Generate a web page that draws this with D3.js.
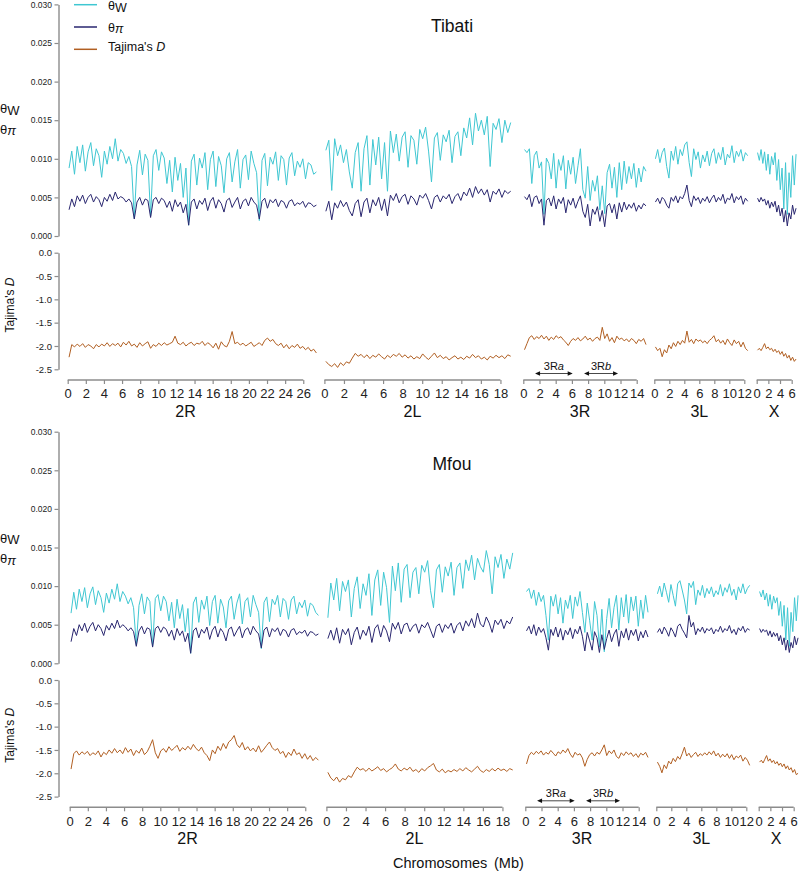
<!DOCTYPE html>
<html><head><meta charset="utf-8">
<script src="https://cdn.jsdelivr.net/npm/d3@7"></script>
<style>
body{margin:0;background:#fff}
svg{display:block;font-family:"Liberation Sans",Arial,Helvetica,sans-serif}
</style></head><body>
<svg id="c" width="800" height="873"></svg>
<script>
// ---------------- DATA ----------------
const chromosomes = ["2R","2L","3R","3L","X"];
const chromLengthMb = [27.6,19.2,15.3,12.7,7.0];
const chromTickMax = [26,18,14,12,6];
const windowMb = 0.3;
const populations = ["Tibati","Mfou"];
const thetaTicks = [0,0.005,0.010,0.015,0.020,0.025,0.030];
const tajimaTicks = [0,-0.5,-1.0,-1.5,-2.0,-2.5];
const inversionNames = ["a","b"];
const inversionStartMb = [1.45,7.5];
const inversionEndMb = [6.1,11.7];

// Tibati
const tibati_thetaW_2R = [0.0088,0.0110,0.0080,0.0116,0.0095,0.0118,0.0084,0.0109,0.0121,0.0091,
0.0113,0.0104,0.0076,0.0110,0.0093,0.0116,0.0100,0.0126,0.0097,0.0112,
0.0107,0.0094,0.0103,0.0090,0.0023,0.0092,0.0111,0.0079,0.0106,0.0098,
0.0026,0.0104,0.0112,0.0085,0.0109,0.0101,0.0068,0.0098,0.0057,0.0102,
0.0072,0.0094,0.0050,0.0088,0.0014,0.0097,0.0106,0.0066,0.0101,0.0088,
0.0108,0.0060,0.0099,0.0110,0.0064,0.0103,0.0091,0.0056,0.0100,0.0108,
0.0070,0.0096,0.0112,0.0062,0.0099,0.0105,0.0073,0.0110,0.0094,0.0082,
0.0020,0.0098,0.0107,0.0065,0.0102,0.0093,0.0109,0.0072,0.0104,0.0099,
0.0066,0.0101,0.0108,0.0078,0.0097,0.0089,0.0100,0.0074,0.0095,0.0092,
0.0080,0.0083];
const tibati_thetaPi_2R = [0.0034,0.0048,0.0038,0.0052,0.0045,0.0053,0.0042,0.0050,0.0054,0.0044,
0.0051,0.0047,0.0038,0.0050,0.0045,0.0054,0.0046,0.0057,0.0048,0.0051,
0.0049,0.0044,0.0048,0.0043,0.0022,0.0044,0.0050,0.0040,0.0048,0.0046,
0.0024,0.0047,0.0050,0.0042,0.0049,0.0046,0.0037,0.0045,0.0032,0.0047,
0.0038,0.0044,0.0030,0.0041,0.0014,0.0044,0.0048,0.0035,0.0046,0.0041,
0.0049,0.0033,0.0045,0.0050,0.0036,0.0047,0.0042,0.0031,0.0046,0.0049,
0.0037,0.0044,0.0050,0.0035,0.0045,0.0048,0.0039,0.0050,0.0044,0.0040,
0.0022,0.0045,0.0049,0.0036,0.0047,0.0043,0.0048,0.0038,0.0046,0.0044,
0.0036,0.0045,0.0047,0.0039,0.0043,0.0041,0.0045,0.0037,0.0043,0.0042,
0.0038,0.0040];
const tibati_tajD_2R = [-2.24,-1.97,-2.02,-1.96,-2.01,-1.95,-2.03,-1.97,-2.00,-2.06,
-1.97,-2.02,-1.96,-2.00,-1.93,-2.01,-1.95,-1.99,-1.94,-2.02,
-1.92,-1.98,-1.90,-2.00,-1.96,-2.03,-1.93,-2.00,-1.95,-1.91,
-2.05,-1.97,-2.01,-1.94,-1.99,-1.93,-1.98,-1.95,-1.92,-1.79,
-1.94,-1.97,-1.92,-2.00,-1.95,-1.92,-1.99,-1.94,-1.96,-1.90,
-1.99,-1.93,-1.97,-2.04,-1.94,-2.07,-1.91,-1.99,-2.02,-1.90,
-1.69,-1.95,-1.92,-1.98,-1.94,-2.00,-1.96,-1.92,-2.01,-1.97,
-1.93,-1.99,-1.88,-1.83,-1.90,-1.86,-1.95,-1.99,-1.94,-2.04,
-1.97,-2.06,-1.99,-2.03,-1.96,-2.05,-2.01,-2.08,-2.03,-2.11,
-2.07,-2.15];
const tibati_thetaW_2L = [0.0111,0.0124,0.0059,0.0126,0.0104,0.0118,0.0095,0.0112,0.0083,0.0062,
0.0108,0.0121,0.0058,0.0113,0.0130,0.0066,0.0125,0.0092,0.0128,0.0074,
0.0121,0.0058,0.0136,0.0108,0.0132,0.0097,0.0128,0.0135,0.0089,0.0130,
0.0124,0.0093,0.0138,0.0126,0.0141,0.0110,0.0070,0.0127,0.0134,0.0098,
0.0131,0.0122,0.0137,0.0095,0.0129,0.0135,0.0104,0.0140,0.0127,0.0153,
0.0118,0.0159,0.0136,0.0150,0.0131,0.0155,0.0090,0.0146,0.0138,0.0152,
0.0121,0.0150,0.0134,0.0147];
const tibati_thetaPi_2L = [0.0032,0.0045,0.0021,0.0043,0.0036,0.0046,0.0038,0.0044,0.0033,0.0026,
0.0042,0.0047,0.0025,0.0044,0.0049,0.0030,0.0047,0.0039,0.0050,0.0033,
0.0048,0.0026,0.0053,0.0046,0.0055,0.0043,0.0051,0.0054,0.0041,0.0052,
0.0048,0.0040,0.0053,0.0049,0.0055,0.0046,0.0035,0.0050,0.0053,0.0044,
0.0052,0.0048,0.0054,0.0042,0.0051,0.0055,0.0046,0.0057,0.0052,0.0062,
0.0050,0.0064,0.0055,0.0061,0.0053,0.0060,0.0044,0.0058,0.0054,0.0061,
0.0050,0.0059,0.0055,0.0058];
const tibati_tajD_2L = [-2.33,-2.40,-2.44,-2.38,-2.46,-2.36,-2.42,-2.34,-2.37,-2.26,
-2.16,-2.22,-2.18,-2.25,-2.19,-2.27,-2.20,-2.24,-2.17,-2.23,
-2.28,-2.20,-2.25,-2.18,-2.22,-2.16,-2.24,-2.19,-2.26,-2.21,
-2.28,-2.23,-2.27,-2.17,-2.24,-2.29,-2.22,-2.15,-2.25,-2.20,
-2.27,-2.23,-2.30,-2.25,-2.21,-2.28,-2.24,-2.29,-2.22,-2.26,
-2.18,-2.25,-2.21,-2.28,-2.24,-2.30,-2.22,-2.26,-2.20,-2.25,
-2.21,-2.27,-2.19,-2.22];
const tibati_thetaW_3R = [0.0112,0.0108,0.0113,0.0068,0.0104,0.0110,0.0088,0.0096,0.0028,0.0101,
0.0094,0.0074,0.0107,0.0062,0.0099,0.0085,0.0104,0.0061,0.0098,0.0080,
0.0102,0.0068,0.0091,0.0113,0.0060,0.0049,0.0090,0.0046,0.0072,0.0058,
0.0078,0.0034,0.0065,0.0029,0.0082,0.0093,0.0062,0.0089,0.0050,0.0095,
0.0060,0.0097,0.0068,0.0090,0.0074,0.0094,0.0063,0.0088,0.0070,0.0090,
0.0084];
const tibati_thetaPi_3R = [0.0051,0.0047,0.0054,0.0038,0.0050,0.0052,0.0042,0.0048,0.0014,0.0046,
0.0049,0.0039,0.0052,0.0035,0.0048,0.0042,0.0050,0.0030,0.0047,0.0040,
0.0049,0.0036,0.0045,0.0052,0.0032,0.0024,0.0041,0.0013,0.0035,0.0028,
0.0038,0.0019,0.0033,0.0012,0.0039,0.0042,0.0030,0.0041,0.0022,0.0043,
0.0031,0.0044,0.0034,0.0041,0.0036,0.0043,0.0032,0.0040,0.0035,0.0042,
0.0039];
const tibati_tajD_3R = [-2.08,-1.95,-1.82,-1.78,-1.86,-1.80,-1.84,-1.77,-1.85,-1.79,
-1.88,-1.81,-1.86,-1.78,-1.83,-1.80,-1.87,-1.92,-1.99,-1.90,
-1.84,-1.88,-1.82,-1.89,-1.85,-1.79,-1.87,-1.83,-1.90,-1.84,
-1.81,-1.88,-1.60,-1.84,-1.74,-1.90,-1.82,-1.93,-1.79,-1.86,
-1.83,-1.89,-1.85,-1.91,-1.84,-1.88,-1.95,-1.86,-1.90,-1.84,
-1.97];
const tibati_thetaW_3L = [0.0100,0.0112,0.0095,0.0108,0.0114,0.0090,0.0075,0.0110,0.0098,0.0116,
0.0093,0.0112,0.0104,0.0118,0.0122,0.0095,0.0077,0.0113,0.0099,0.0109,
0.0088,0.0105,0.0096,0.0110,0.0091,0.0107,0.0113,0.0094,0.0108,0.0099,
0.0115,0.0092,0.0106,0.0101,0.0117,0.0095,0.0110,0.0103,0.0112,0.0097,
0.0108,0.0104];
const tibati_thetaPi_3L = [0.0044,0.0049,0.0042,0.0050,0.0047,0.0040,0.0036,0.0050,0.0045,0.0052,
0.0043,0.0051,0.0048,0.0055,0.0066,0.0046,0.0038,0.0052,0.0046,0.0050,
0.0042,0.0049,0.0045,0.0051,0.0043,0.0049,0.0053,0.0044,0.0050,0.0046,
0.0054,0.0042,0.0049,0.0047,0.0055,0.0043,0.0051,0.0047,0.0052,0.0041,
0.0049,0.0045];
const tibati_tajD_3L = [-2.02,-2.10,-2.05,-2.23,-2.08,-2.15,-1.98,-2.06,-1.93,-2.01,
-1.90,-1.97,-1.88,-1.94,-1.68,-1.92,-1.86,-1.95,-1.85,-1.90,
-1.87,-1.93,-1.89,-1.95,-1.88,-1.84,-1.78,-1.91,-1.86,-1.94,
-1.88,-1.97,-1.85,-1.93,-1.99,-1.87,-1.95,-1.90,-2.02,-1.92,
-2.05,-2.10];
const tibati_thetaW_X = [0.0108,0.0098,0.0112,0.0094,0.0109,0.0085,0.0106,0.0080,0.0103,0.0092,
0.0108,0.0072,0.0099,0.0060,0.0088,0.0035,0.0095,0.0028,0.0082,0.0050,
0.0104,0.0066,0.0106];
const tibati_thetaPi_X = [0.0049,0.0044,0.0050,0.0045,0.0048,0.0040,0.0046,0.0036,0.0044,0.0038,
0.0045,0.0031,0.0040,0.0026,0.0036,0.0018,0.0033,0.0013,0.0030,0.0022,
0.0040,0.0028,0.0036];
const tibati_tajD_X = [-2.09,-2.05,-2.10,-2.03,-1.95,-2.06,-2.02,-2.08,-2.05,-2.12,
-2.07,-2.14,-2.10,-2.18,-2.12,-2.22,-2.16,-2.26,-2.20,-2.31,
-2.24,-2.33,-2.28];

// Mfou
const mfou_thetaW_2R = [0.0065,0.0092,0.0070,0.0096,0.0080,0.0098,0.0072,0.0090,0.0099,0.0076,
0.0094,0.0085,0.0066,0.0091,0.0078,0.0096,0.0083,0.0103,0.0080,0.0093,
0.0087,0.0077,0.0085,0.0072,0.0024,0.0075,0.0090,0.0064,0.0086,0.0080,
0.0022,0.0084,0.0089,0.0068,0.0087,0.0080,0.0055,0.0079,0.0046,0.0083,
0.0058,0.0076,0.0041,0.0071,0.0013,0.0078,0.0086,0.0053,0.0082,0.0070,
0.0087,0.0049,0.0080,0.0088,0.0052,0.0083,0.0073,0.0046,0.0081,0.0087,
0.0057,0.0078,0.0090,0.0051,0.0080,0.0085,0.0060,0.0088,0.0076,0.0066,
0.0019,0.0079,0.0086,0.0054,0.0083,0.0076,0.0088,0.0060,0.0084,0.0080,
0.0057,0.0082,0.0087,0.0064,0.0079,0.0072,0.0082,0.0061,0.0078,0.0075,
0.0066,0.0062];
const mfou_thetaPi_2R = [0.0028,0.0045,0.0036,0.0050,0.0042,0.0052,0.0040,0.0048,0.0053,0.0042,
0.0050,0.0045,0.0036,0.0049,0.0043,0.0052,0.0045,0.0056,0.0046,0.0050,
0.0047,0.0042,0.0046,0.0041,0.0022,0.0042,0.0048,0.0038,0.0046,0.0044,
0.0021,0.0045,0.0048,0.0040,0.0047,0.0044,0.0035,0.0043,0.0030,0.0045,
0.0036,0.0042,0.0028,0.0039,0.0013,0.0042,0.0046,0.0033,0.0044,0.0039,
0.0047,0.0031,0.0043,0.0048,0.0034,0.0045,0.0040,0.0029,0.0044,0.0047,
0.0035,0.0042,0.0048,0.0033,0.0043,0.0046,0.0037,0.0048,0.0042,0.0038,
0.0020,0.0043,0.0047,0.0034,0.0045,0.0041,0.0046,0.0036,0.0044,0.0042,
0.0034,0.0043,0.0045,0.0037,0.0041,0.0039,0.0043,0.0035,0.0041,0.0040,
0.0036,0.0038];
const mfou_tajD_2R = [-1.91,-1.58,-1.52,-1.61,-1.54,-1.59,-1.53,-1.62,-1.56,-1.60,
-1.52,-1.65,-1.55,-1.60,-1.50,-1.57,-1.47,-1.56,-1.50,-1.58,
-1.45,-1.55,-1.48,-1.62,-1.51,-1.57,-1.46,-1.60,-1.54,-1.42,
-1.28,-1.56,-1.68,-1.52,-1.47,-1.55,-1.43,-1.51,-1.46,-1.40,
-1.53,-1.45,-1.50,-1.42,-1.49,-1.38,-1.47,-1.52,-1.44,-1.56,
-1.62,-1.73,-1.50,-1.58,-1.42,-1.51,-1.36,-1.47,-1.33,-1.28,
-1.19,-1.38,-1.45,-1.34,-1.50,-1.43,-1.52,-1.46,-1.54,-1.41,
-1.55,-1.48,-1.40,-1.33,-1.45,-1.51,-1.47,-1.58,-1.53,-1.66,
-1.55,-1.62,-1.48,-1.60,-1.56,-1.68,-1.58,-1.70,-1.62,-1.73,
-1.66,-1.72];
const mfou_thetaW_2L = [0.0059,0.0104,0.0082,0.0110,0.0068,0.0106,0.0093,0.0108,0.0060,0.0097,
0.0112,0.0071,0.0103,0.0088,0.0116,0.0062,0.0108,0.0121,0.0075,0.0118,
0.0098,0.0053,0.0126,0.0094,0.0130,0.0079,0.0122,0.0128,0.0085,0.0118,
0.0124,0.0090,0.0127,0.0118,0.0133,0.0094,0.0072,0.0121,0.0128,0.0092,
0.0125,0.0113,0.0131,0.0088,0.0124,0.0130,0.0097,0.0134,0.0120,0.0140,
0.0108,0.0136,0.0125,0.0118,0.0146,0.0128,0.0090,0.0138,0.0124,0.0141,
0.0110,0.0135,0.0122,0.0143];
const mfou_thetaPi_2L = [0.0032,0.0043,0.0030,0.0046,0.0026,0.0044,0.0037,0.0045,0.0024,0.0040,
0.0047,0.0031,0.0043,0.0036,0.0048,0.0027,0.0045,0.0050,0.0034,0.0049,
0.0042,0.0028,0.0052,0.0044,0.0053,0.0038,0.0050,0.0052,0.0041,0.0048,
0.0051,0.0039,0.0050,0.0046,0.0053,0.0043,0.0033,0.0048,0.0051,0.0040,
0.0050,0.0045,0.0052,0.0039,0.0049,0.0053,0.0042,0.0055,0.0048,0.0058,
0.0046,0.0065,0.0051,0.0047,0.0060,0.0052,0.0040,0.0056,0.0050,0.0057,
0.0045,0.0055,0.0051,0.0060];
const mfou_tajD_2L = [-1.98,-2.10,-2.16,-2.08,-2.19,-2.11,-2.14,-2.05,-2.09,-1.97,
-1.87,-1.93,-1.90,-1.96,-1.89,-1.95,-1.91,-1.86,-1.94,-1.90,
-1.97,-1.92,-1.88,-1.80,-1.91,-1.95,-1.89,-1.93,-1.87,-1.96,
-1.92,-1.98,-1.90,-1.95,-1.88,-1.84,-1.79,-1.93,-1.97,-1.91,
-1.99,-1.94,-1.97,-1.92,-1.96,-1.90,-1.95,-1.88,-1.93,-1.97,
-1.91,-1.85,-1.94,-1.98,-1.92,-1.96,-1.90,-1.95,-1.89,-1.94,
-1.91,-1.96,-1.90,-1.93];
const mfou_thetaW_3R = [0.0093,0.0097,0.0084,0.0095,0.0075,0.0092,0.0080,0.0088,0.0062,0.0030,
0.0087,0.0074,0.0089,0.0064,0.0085,0.0052,0.0082,0.0071,0.0088,0.0058,
0.0086,0.0074,0.0093,0.0066,0.0040,0.0078,0.0055,0.0030,0.0080,0.0062,
0.0021,0.0070,0.0015,0.0058,0.0084,0.0046,0.0072,0.0088,0.0043,0.0085,
0.0060,0.0089,0.0052,0.0086,0.0068,0.0087,0.0048,0.0082,0.0058,0.0088,
0.0066];
const mfou_thetaPi_3R = [0.0042,0.0048,0.0038,0.0050,0.0036,0.0047,0.0040,0.0045,0.0033,0.0017,
0.0044,0.0036,0.0047,0.0034,0.0045,0.0030,0.0043,0.0037,0.0046,0.0032,
0.0044,0.0038,0.0048,0.0035,0.0016,0.0040,0.0029,0.0017,0.0041,0.0033,
0.0014,0.0037,0.0018,0.0032,0.0043,0.0028,0.0038,0.0044,0.0022,0.0042,
0.0033,0.0045,0.0030,0.0043,0.0036,0.0044,0.0029,0.0041,0.0033,0.0043,
0.0034];
const mfou_tajD_3R = [-1.80,-1.62,-1.55,-1.60,-1.53,-1.58,-1.52,-1.61,-1.55,-1.59,
-1.51,-1.57,-1.63,-1.54,-1.58,-1.50,-1.56,-1.47,-1.59,-1.66,
-1.55,-1.61,-1.58,-1.67,-1.85,-1.70,-1.60,-1.56,-1.63,-1.55,
-1.59,-1.50,-1.39,-1.62,-1.52,-1.58,-1.50,-1.64,-1.68,-1.56,
-1.62,-1.54,-1.60,-1.56,-1.64,-1.58,-1.66,-1.57,-1.61,-1.55,
-1.66];
const mfou_thetaW_3L = [0.0090,0.0100,0.0086,0.0104,0.0092,0.0079,0.0102,0.0088,0.0074,0.0103,
0.0107,0.0095,0.0082,0.0064,0.0104,0.0098,0.0106,0.0076,0.0095,0.0088,
0.0101,0.0085,0.0097,0.0090,0.0099,0.0086,0.0094,0.0089,0.0102,0.0087,
0.0098,0.0092,0.0103,0.0088,0.0096,0.0082,0.0099,0.0091,0.0103,0.0090,
0.0097,0.0101];
const mfou_thetaPi_3L = [0.0040,0.0045,0.0038,0.0047,0.0042,0.0035,0.0046,0.0041,0.0034,0.0048,
0.0051,0.0044,0.0039,0.0033,0.0062,0.0047,0.0053,0.0037,0.0045,0.0041,
0.0047,0.0039,0.0045,0.0042,0.0046,0.0038,0.0044,0.0041,0.0048,0.0040,
0.0045,0.0042,0.0049,0.0039,0.0044,0.0037,0.0046,0.0042,0.0048,0.0040,
0.0045,0.0043];
const mfou_tajD_3L = [-1.76,-1.85,-1.99,-1.82,-1.90,-1.74,-1.80,-1.68,-1.75,-1.64,
-1.70,-1.58,-1.44,-1.63,-1.57,-1.66,-1.60,-1.55,-1.64,-1.58,
-1.62,-1.56,-1.61,-1.54,-1.60,-1.52,-1.63,-1.57,-1.66,-1.59,
-1.65,-1.58,-1.68,-1.60,-1.71,-1.63,-1.67,-1.61,-1.74,-1.66,
-1.72,-1.83];
const mfou_thetaW_X = [0.0093,0.0086,0.0095,0.0082,0.0091,0.0074,0.0089,0.0070,0.0087,0.0078,
0.0085,0.0062,0.0080,0.0048,0.0075,0.0030,0.0072,0.0022,0.0066,0.0041,
0.0085,0.0055,0.0088];
const mfou_thetaPi_X = [0.0045,0.0040,0.0044,0.0041,0.0043,0.0036,0.0042,0.0034,0.0040,0.0035,
0.0039,0.0029,0.0036,0.0024,0.0033,0.0017,0.0030,0.0014,0.0027,0.0020,
0.0035,0.0024,0.0033];
const mfou_tajD_X = [-1.76,-1.72,-1.78,-1.70,-1.62,-1.74,-1.69,-1.77,-1.72,-1.80,
-1.75,-1.83,-1.78,-1.86,-1.80,-1.90,-1.84,-1.93,-1.88,-1.98,
-1.92,-2.03,-2.00];

// ---------------- BUILD TABLE ----------------
const seriesTable = {
  Tibati: {
    thetaW: [tibati_thetaW_2R, tibati_thetaW_2L, tibati_thetaW_3R, tibati_thetaW_3L, tibati_thetaW_X],
    thetaPi: [tibati_thetaPi_2R, tibati_thetaPi_2L, tibati_thetaPi_3R, tibati_thetaPi_3L, tibati_thetaPi_X],
    tajD: [tibati_tajD_2R, tibati_tajD_2L, tibati_tajD_3R, tibati_tajD_3L, tibati_tajD_X]
  },
  Mfou: {
    thetaW: [mfou_thetaW_2R, mfou_thetaW_2L, mfou_thetaW_3R, mfou_thetaW_3L, mfou_thetaW_X],
    thetaPi: [mfou_thetaPi_2R, mfou_thetaPi_2L, mfou_thetaPi_3R, mfou_thetaPi_3L, mfou_thetaPi_X],
    tajD: [mfou_tajD_2R, mfou_tajD_2L, mfou_tajD_3R, mfou_tajD_3L, mfou_tajD_X]
  }
};

// ---------------- LAYOUT ----------------
const COL = {thetaW: "#3fc7d2", thetaPi: "#29266f", tajD: "#b15f22", axis: "#8c8c8c", text: "#222"};
const chromX0 = [67.7, 324.4, 523.3, 654.3, 756.7];
const chromPxPerMb = [9.06, 9.78, 8.1, 7.5, 5.83];
const panels = [
  {dx: 0, dy: 0, titleY: 32},
  {dx: 2, dy: 427.3, titleY: 470.5}
];
const yAxisX = 58.5;

const svg = d3.select("#c");

panels.forEach((p, pi) => {
  const pop = populations[pi];
  const g = svg.append("g").attr("transform", `translate(0,${p.dy})`);
  const yTheta = d3.scaleLinear().domain([0, 0.03]).range([236, 4.4]);
  const yTaj = d3.scaleLinear().domain([-2.5, 0]).range([369.3, 252.7]);
  const axisY = 380;

  // Y axes
  const ga = g.append("g").attr("transform", `translate(${yAxisX},0)`)
    .call(d3.axisLeft(yTheta).tickValues(thetaTicks).tickFormat(d => d.toFixed(3)).tickSize(4).tickPadding(2.5).tickSizeOuter(0));
  ga.selectAll("text").attr("font-size", 8.5).attr("fill", COL.text).attr("font-family", null);
  const gb = g.append("g").attr("transform", `translate(${yAxisX},0)`)
    .call(d3.axisLeft(yTaj).tickValues(tajimaTicks).tickFormat(d => d.toFixed(1)).tickSize(4).tickPadding(2.5).tickSizeOuter(0));
  gb.selectAll("text").attr("font-size", 9.5).attr("fill", COL.text).attr("font-family", null);
  [ga, gb].forEach(a => {
    a.select(".domain").attr("stroke", COL.axis).attr("stroke-width", 1.4);
    a.selectAll(".tick line").attr("stroke", COL.axis).attr("stroke-width", 1.2);
  });

  // y-axis titles
  const tw = g.append("text").attr("x", 0).attr("y", pi === 0 ? 113 : 115.5).attr("font-size", 13).attr("fill", "#111");
  tw.append("tspan").text("θ");
  tw.append("tspan").attr("dy", 1.5).text("W");
  const tp = g.append("text").attr("x", 0).attr("y", pi === 0 ? 133.5 : 136).attr("font-size", 13).attr("fill", "#111");
  tp.append("tspan").text("θ");
  tp.append("tspan").attr("dy", 1.5).attr("font-style", "italic").text("π");
  const td = g.append("text").attr("transform", `translate(13.5,${pi === 0 ? 305 : 308}) rotate(-90)`)
    .attr("text-anchor", "middle").attr("font-size", 12).attr("fill", "#111");
  td.append("tspan").text("Tajima's ");
  td.append("tspan").attr("font-style", "italic").text("D");

  // Title
  g.append("text").attr("x", 452).attr("y", p.titleY - p.dy).attr("text-anchor", "middle")
    .attr("font-size", 17.5).attr("fill", "#111").text(pop);

  // chromosomes
  chromosomes.forEach((chr, ci) => {
    const x0 = chromX0[ci] + p.dx;
    const x = d3.scaleLinear().domain([0, chromLengthMb[ci]]).range([x0, x0 + chromLengthMb[ci] * chromPxPerMb[ci]]);
    const pos = (arr) => arr.map((v, i) => ({mb: (i + 0.5) * windowMb, v}));
    const tw = pos(seriesTable[pop].thetaW[ci]);
    const tpi = pos(seriesTable[pop].thetaPi[ci]);
    const tdd = pos(seriesTable[pop].tajD[ci]);
    const lineT = d3.line().x(d => x(d.mb)).y(d => yTheta(d.v));
    const lineD = d3.line().x(d => x(d.mb)).y(d => yTaj(d.v));
    g.append("path").attr("d", lineT(tw)).attr("fill", "none").attr("stroke", COL.thetaW).attr("stroke-width", 1).attr("stroke-linejoin", "round");
    g.append("path").attr("d", lineT(tpi)).attr("fill", "none").attr("stroke", COL.thetaPi).attr("stroke-width", 1).attr("stroke-linejoin", "round");
    g.append("path").attr("d", lineD(tdd)).attr("fill", "none").attr("stroke", COL.tajD).attr("stroke-width", 1).attr("stroke-linejoin", "round");

    // x axis
    const ticks = d3.range(0, chromTickMax[ci] + 1, 2);
    const xa = g.append("g").attr("transform", `translate(0,${axisY})`)
      .call(d3.axisBottom(x).tickValues(ticks).tickFormat(d3.format("d")).tickSize(4).tickPadding(5).tickSizeOuter(0));
    xa.select(".domain").attr("d", `M${x(0)},0H${x(chromTickMax[ci])}`).attr("stroke", COL.axis).attr("stroke-width", 1.4);
    xa.selectAll(".tick line").attr("stroke", COL.axis).attr("stroke-width", 1.2);
    xa.selectAll("text").attr("font-size", 13).attr("fill", COL.text).attr("font-family", null);
    g.append("text").attr("x", (x(0) + x(chromTickMax[ci])) / 2).attr("y", 417)
      .attr("text-anchor", "middle").attr("font-size", 16).attr("fill", "#111").text(chr);

    if (chr === "3R") {
      inversionNames.forEach((nm, k) => {
        const xa1 = x(inversionStartMb[k]), xa2 = x(inversionEndMb[k]);
        const ay = 373.5;
        g.append("line").attr("x1", xa1 + 4).attr("x2", xa2 - 4).attr("y1", ay).attr("y2", ay)
          .attr("stroke", "#333").attr("stroke-width", 0.9);
        g.append("path").attr("d", `M${xa1},${ay}L${xa1 + 5},${ay - 2.3}L${xa1 + 5},${ay + 2.3}Z`).attr("fill", "#111");
        g.append("path").attr("d", `M${xa2},${ay}L${xa2 - 5},${ay - 2.3}L${xa2 - 5},${ay + 2.3}Z`).attr("fill", "#111");
        const lt = g.append("text").attr("x", (xa1 + xa2) / 2).attr("y", 370).attr("text-anchor", "middle")
          .attr("font-size", 11).attr("fill", "#111");
        lt.append("tspan").text("3R");
        lt.append("tspan").attr("font-style", "italic").text(nm);
      });
    }
  });
});

// Legend (top panel)
const legendItems = [["thetaW", 4.7], ["thetaPi", 27], ["tajD", 49.3]];
const lg = svg.append("g");
legendItems.forEach(([k, y]) => {
  lg.append("line").attr("x1", 74).attr("x2", 97).attr("y1", y).attr("y2", y).attr("stroke", COL[k]).attr("stroke-width", 1.5);
});
const l1 = lg.append("text").attr("x", 108).attr("y", 10).attr("font-size", 12.5).attr("fill", "#111");
l1.append("tspan").text("θ"); l1.append("tspan").attr("dy", 1.5).text("W");
const l2 = lg.append("text").attr("x", 108).attr("y", 31.5).attr("font-size", 12.5).attr("fill", "#111");
l2.append("tspan").text("θ"); l2.append("tspan").attr("dy", 1.5).attr("font-style", "italic").text("π");
const l3 = lg.append("text").attr("x", 108).attr("y", 51).attr("font-size", 12.5).attr("fill", "#111");
l3.append("tspan").text("Tajima's "); l3.append("tspan").attr("font-style", "italic").text("D");

// x-axis title
const xt = svg.append("text").attr("y", 868).attr("font-size", 14.5).attr("fill", "#111");
xt.append("tspan").attr("x", 393).text("Chromosomes");
xt.append("tspan").attr("x", 494).text("(Mb)");
</script>
</body></html>
